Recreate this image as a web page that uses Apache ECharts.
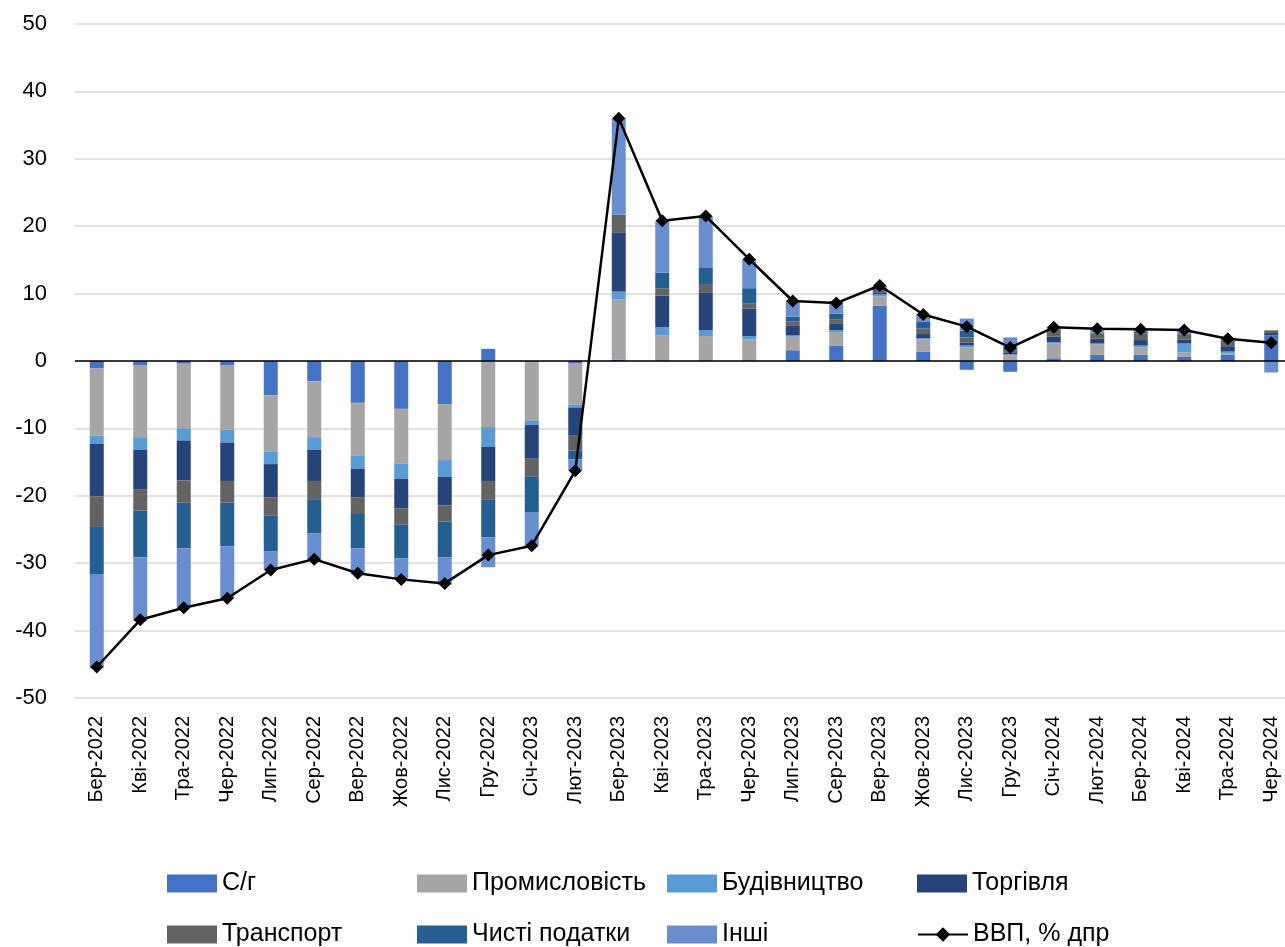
<!DOCTYPE html>
<html>
<head>
<meta charset="utf-8">
<script src="https://cdn.jsdelivr.net/npm/echarts@6/dist/echarts.min.js"></script>
<style>
html,body{margin:0;padding:0;background:#fff;overflow:hidden;width:1285px;height:947px;}
#chart{width:1310px;height:947px;}
</style>
</head>
<body>
<div id="chart"></div>
<script>
const categories = ['Бер-2022','Кві-2022','Тра-2022','Чер-2022','Лип-2022','Сер-2022','Вер-2022','Жов-2022','Лис-2022','Гру-2022','Січ-2023','Лют-2023','Бер-2023','Кві-2023','Тра-2023','Чер-2023','Лип-2023','Сер-2023','Вер-2023','Жов-2023','Лис-2023','Гру-2023','Січ-2024','Лют-2024','Бер-2024','Кві-2024','Тра-2024','Чер-2024'];

const agri = [-1.1,-0.6,-0.4,-0.6,-5.1,-3.0,-6.2,-7.1,-6.4,1.8,-0.2,-0.3,0.2,0,0,0,1.6,2.3,8.2,1.4,-1.3,-1.6,0.4,0.9,0.9,0.6,0.9,3.8];
const industry = [-10.0,-10.7,-9.6,-9.6,-8.3,-8.3,-7.8,-8.1,-8.3,-9.8,-8.7,-6.2,8.9,3.8,3.7,3.2,2.0,2.0,1.4,1.8,2.0,0.8,2.2,1.6,1.1,0.7,0.2,0];
const construction = [-1.2,-1.9,-1.8,-1.9,-1.9,-1.9,-2.0,-2.3,-2.5,-2.9,-0.6,-0.4,1.2,1.2,0.9,0.5,0.2,0.3,0.3,0.2,0.3,0.2,0.2,0.1,0.3,1.3,0.3,0];
const trade = [-7.8,-5.9,-5.9,-5.7,-4.9,-4.6,-4.2,-4.4,-4.2,-5.1,-5.0,-4.2,8.8,4.7,5.5,4.1,1.5,1.0,0.2,0.6,0.4,0.2,0.8,0.7,0.8,0.6,0.8,0.35];
const transport = [-4.4,-3.1,-3.3,-3.2,-2.7,-2.7,-2.5,-2.4,-2.4,-2.8,-2.6,-2.2,2.6,1.1,1.2,0.7,0.6,0.6,0.3,0.8,0.8,0.4,1.0,0.8,1.0,0.7,0.8,0.4];
const netTaxes = [-7.2,-6.9,-6.8,-6.5,-5.3,-5.1,-5.1,-5.0,-5.3,-5.6,-5.4,-1.3,0,2.3,2.6,2.3,0.7,0.8,0.3,1.0,1.0,0.3,0.1,0.1,0.2,0.2,0.2,0];
const other = [-13.9,-9.5,-8.7,-7.7,-2.8,-3.9,-3.8,-3.1,-4.1,-4.4,-4.9,-1.7,14.3,7.7,7.6,4.3,2.4,1.9,0.5,1.1,1.8,1.6,0.4,0.6,0.4,0.5,0.2,-1.7];
const gdp = [-45.4,-38.4,-36.6,-35.2,-31.0,-29.4,-31.5,-32.4,-33.0,-28.8,-27.4,-16.3,36.0,20.8,21.5,15.1,8.9,8.6,11.2,6.9,5.1,2.0,5.0,4.8,4.7,4.6,3.3,2.7];

const barNames = ['С/г','Промисловість','Будівництво','Торгівля','Транспорт','Чисті податки','Інші'];
const barData = [agri, industry, construction, trade, transport, netTaxes, other];
const barColors = ['#4472C4','#A5A5A5','#5B9BD5','#264478','#636363','#255E91','#698ED0'];
const lineName = 'ВВП, % дпр';

const FONT = "'Liberation Sans', Arial, sans-serif";

const series = barNames.map((n, i) => ({
  name: n,
  type: 'bar',
  stack: 'total',
  barWidth: 14,
  data: barData[i],
  itemStyle: { color: barColors[i] },
  emphasis: { disabled: true }
}));
series.push({
  name: lineName,
  type: 'line',
  data: gdp,
  symbol: 'diamond',
  symbolSize: 13,
  itemStyle: { color: '#000' },
  lineStyle: { color: '#000', width: 2.5 },
  z: 5,
  markLine: {
    silent: true,
    symbol: 'none',
    label: { show: false },
    lineStyle: { color: '#000', width: 1.5, type: 'solid' },
    data: [{ yAxis: 0 }]
  }
});

const legendOrder = ['С/г','Промисловість','Будівництво','Торгівля','Транспорт','Чисті податки','Інші', lineName];
const legendCols = [167, 417, 667, 917];
const legendRows = [871, 922];
const legends = legendOrder.map((n, i) => ({
  data: [n === lineName ? { name: n } : { name: n, icon: 'rect' }],
  left: legendCols[i % 4],
  top: legendRows[Math.floor(i / 4)],
  itemWidth: 50,
  itemHeight: 18,
  padding: 0,
  selectedMode: false,
  textStyle: { fontFamily: FONT, fontSize: 25, color: '#000' }
}));

const chart = echarts.init(document.getElementById('chart'));
chart.setOption({
  animation: false,
  backgroundColor: '#fff',
  grid: { left: 75, top: 24, width: 1218, height: 674 },
  legend: legends,
  xAxis: {
    type: 'category',
    data: categories,
    axisLine: { show: false },
    axisTick: { show: false },
    axisLabel: { rotate: 90, fontFamily: FONT, fontSize: 20, color: '#000', margin: 18, interval: 0 }
  },
  yAxis: {
    type: 'value',
    min: -50,
    max: 50,
    interval: 10,
    axisLine: { show: false },
    axisTick: { show: false },
    axisLabel: { fontFamily: FONT, fontSize: 22, color: '#000', margin: 28 },
    splitLine: { lineStyle: { color: '#D9D9D9', width: 1.5 } }
  },
  series: series
});
</script>
</body>
</html>
